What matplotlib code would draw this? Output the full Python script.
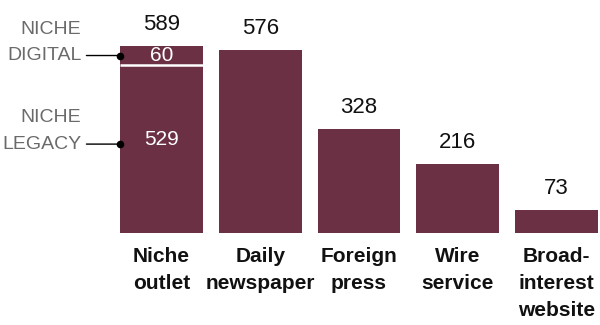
import matplotlib
matplotlib.use("Agg")
import matplotlib.pyplot as plt
from matplotlib import font_manager

names = {f.name for f in font_manager.fontManager.ttflist}
FONT = "Liberation Sans Narrow" if "Liberation Sans Narrow" in names else "Liberation Sans"

categories = ["Niche\noutlet", "Daily\nnewspaper", "Foreign\npress", "Wire\nservice", "Broad-\ninterest\nwebsite"]
totals = [589, 576, 328, 216, 73]
niche_legacy = 529
niche_digital = 60

BAR = "#6b3043"
GREY = "#6a6a6a"

fig = plt.figure(figsize=(6.0, 3.25), dpi=100)
W, H = 600, 325
ax = fig.add_axes([112.1 / W, 92 / H, 493.75 / W, 190.5 / H])
ax.set_xlim(-0.5, 4.5)
ax.set_ylim(0, 600)
ax.axis("off")

x = list(range(len(categories)))
width = 0.84

# other categories drawn as single bars
ax.bar(x[1:], totals[1:], width=width, color=BAR, linewidth=0)
# niche outlet split into legacy and digital segments
ax.bar(x[0], niche_legacy, width=width, color=BAR, linewidth=0)
ax.bar(x[0], niche_digital, bottom=niche_legacy, width=width, color=BAR, linewidth=0)
ax.plot([x[0] - width / 2, x[0] + width / 2], [niche_legacy, niche_legacy],
        color="white", linewidth=1.8, solid_capstyle="butt", clip_on=False)

# totals above bars
for xi, v in zip(x, totals):
    ax.annotate(str(v), (xi, v), xytext=(0, 8), textcoords="offset points",
                ha="center", va="bottom", fontsize=16, family=FONT, color="#111111")

# segment values inside niche bar
digital_y = niche_legacy + niche_digital / 2
legacy_y = 280
ax.text(x[0], digital_y, str(niche_digital), ha="center", va="center",
        fontsize=15, family=FONT, color="white")
ax.annotate(str(niche_legacy), (x[0], legacy_y), xytext=(0, 3), textcoords="offset points",
            ha="center", va="center", fontsize=15, family=FONT, color="white")

# category labels
for xi, c in zip(x, categories):
    ax.annotate(c, (xi, 0), xytext=(0, -10), textcoords="offset points",
                ha="center", va="top", fontsize=15, family=FONT, fontweight="bold",
                color="#111111", linespacing=1.55)

# segment callouts on the left
x_left = x[0] - width / 2
for y_val, (top, bottom) in [(digital_y, ("NICHE", "DIGITAL")),
                             (legacy_y, ("NICHE", "LEGACY"))]:
    ax.annotate("", xy=(x_left, y_val), xytext=(x_left - 0.34, y_val),
                arrowprops=dict(arrowstyle="-", color="black", lw=1.0, shrinkA=0, shrinkB=0),
                annotation_clip=False)
    ax.plot([x_left], [y_val], marker="o", markersize=4.5, color="black", clip_on=False)
    ax.annotate(bottom, (x_left - 0.39, y_val), xytext=(0, 0), textcoords="offset points",
                ha="right", va="center", fontsize=14, family=FONT, color=GREY,
                annotation_clip=False)
    ax.annotate(top, (x_left - 0.39, y_val), xytext=(0, 19), textcoords="offset points",
                ha="right", va="center", fontsize=14, family=FONT, color=GREY,
                annotation_clip=False)

fig.savefig("out.png", dpi=100)
